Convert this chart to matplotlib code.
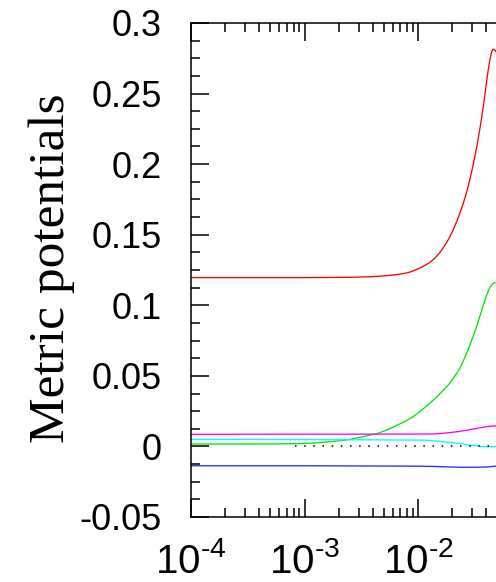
import numpy as np
import matplotlib
matplotlib.use("Agg")
import matplotlib.pyplot as plt
from matplotlib.ticker import FixedLocator, FixedFormatter, MultipleLocator, LogLocator, NullFormatter

# ---- data (x as log10 of scale factor) ----
red_logx = [-4.0, -3.0, -2.6, -2.4, -2.3, -2.2, -2.15, -2.1, -2.07, -2.04, -2.0, -1.97, -1.95, -1.92,
            -1.894, -1.85, -1.806, -1.775, -1.744, -1.72, -1.70, -1.68, -1.656, -1.63,
            -1.604, -1.585, -1.568, -1.555, -1.542, -1.528, -1.513, -1.497, -1.48, -1.467, -1.454,
            -1.437, -1.42, -1.407, -1.395, -1.38, -1.366, -1.357, -1.35, -1.343, -1.337, -1.331,
            -1.325, -1.319, -1.313, -1.30, -1.29]
red_val = [0.1196, 0.1196, 0.1198, 0.1203, 0.1208, 0.1216, 0.1222, 0.1229, 0.1236, 0.1245, 0.1258,
           0.1269, 0.1278, 0.1292, 0.1305, 0.1335, 0.1375, 0.1410, 0.1450, 0.1485, 0.1518, 0.1553,
           0.1600, 0.1655, 0.1715, 0.1765, 0.1813, 0.1853, 0.1895, 0.1945, 0.2000, 0.2063,
           0.2135, 0.2193, 0.2255, 0.2340, 0.2435, 0.2515, 0.2588, 0.2675, 0.2742, 0.2776, 0.2797,
           0.2809, 0.2814, 0.2813, 0.2809, 0.2804, 0.2797, 0.2780, 0.2765]

green_logx = [-4.0, -3.5, -3.2, -3.0, -2.9, -2.775, -2.68, -2.6, -2.485, -2.41, -2.335, -2.26, -2.185,
              -2.11, -2.044, -1.97, -1.894, -1.82, -1.744, -1.70, -1.656, -1.63, -1.61, -1.59, -1.568,
              -1.545, -1.52, -1.50, -1.48, -1.455, -1.427, -1.41, -1.39, -1.378, -1.366, -1.353,
              -1.34, -1.331, -1.322, -1.31, -1.29]
green_val = [0.0017, 0.0017, 0.0018, 0.0021, 0.0025, 0.0033, 0.0041, 0.0050, 0.0069, 0.0082, 0.0097,
             0.0122, 0.0150, 0.0179, 0.0210, 0.0256, 0.0307, 0.0362, 0.0425, 0.0470, 0.0520, 0.0557,
             0.0590, 0.0626, 0.0668, 0.0714, 0.0767, 0.0812, 0.0860, 0.0923, 0.0995, 0.1037, 0.1082,
             0.1106, 0.1126, 0.1142, 0.1153, 0.1158, 0.1160, 0.1160, 0.1157]

magenta_logx = [-4.0, -2.5, -1.9, -1.83, -1.78, -1.72, -1.656, -1.60, -1.56, -1.52, -1.48, -1.44,
                -1.40, -1.37, -1.34, -1.29]
magenta_val = [0.0086, 0.0087, 0.0088, 0.0090, 0.0093, 0.0098, 0.0104, 0.0111, 0.0116, 0.0122,
               0.0128, 0.0134, 0.0139, 0.0143, 0.0145, 0.0146]

cyan_logx = [-4.0, -2.5, -2.0, -1.94, -1.88, -1.82, -1.76, -1.72, -1.656, -1.61, -1.58, -1.55,
             -1.52, -1.48, -1.44, -1.40, -1.36, -1.32, -1.29]
cyan_val = [0.0050, 0.0047, 0.0045, 0.0044, 0.0041, 0.0037, 0.0032, 0.0029, 0.0023, 0.0018,
            0.0014, 0.0010, 0.0007, 0.0003, 0.0000, -0.0002, -0.0002, -0.0001, 0.0001]

blue_logx = [-4.0, -3.0, -2.0, -1.85, -1.75, -1.6, -1.45, -1.38, -1.33, -1.29]
blue_val = [-0.0137, -0.0137, -0.0140, -0.0142, -0.0145, -0.0148, -0.0147, -0.0145, -0.0141, -0.0138]

zero_logx = [-3.08, 0.0]
zero_val = [0.0, 0.0]

ytick_vals = [-0.05, 0, 0.05, 0.1, 0.15, 0.2, 0.25, 0.3]
ytick_labels = ["-0.05", "0", "0.05", "0.1", "0.15", "0.2", "0.25", "0.3"]
xtick_vals = [1e-4, 1e-3, 1e-2, 1e-1, 1e0]
xtick_labels = [r"$10^{\text{-}4}$", r"$10^{\text{-}3}$", r"$10^{\text{-}2}$", "", ""]
ylabel = "Metric potentials"

plt.rcParams["font.family"] = ["Liberation Sans", "DejaVu Sans"]
plt.rcParams["mathtext.fontset"] = "custom"
plt.rcParams["mathtext.rm"] = "Liberation Sans"
plt.rcParams["mathtext.it"] = "Liberation Sans:italic"
plt.rcParams["mathtext.bf"] = "Liberation Sans:bold"

W, H = 496, 582
fig = plt.figure(figsize=(W / 100, H / 100), dpi=100)
ax = fig.add_axes([191 / W, 65 / H, 454 / W, 494 / H])

lw = 0.95
ax.plot(10 ** np.array(red_logx), red_val, color="#ff0000", lw=lw)
ax.plot(10 ** np.array(green_logx), green_val, color="#00e800", lw=lw)
ax.plot(10 ** np.array(magenta_logx), magenta_val, color="#ff00ff", lw=lw)
ax.plot(10 ** np.array(cyan_logx), cyan_val, color="#00ffff", lw=lw)
ax.plot(10 ** np.array(blue_logx), blue_val, color="#2a2aff", lw=lw)
ax.plot(10 ** np.array(zero_logx), zero_val, color="black", lw=1.1, linestyle=(0, (1, 5)))

ax.set_xscale("log")
ax.set_xlim(1e-4, 1e0)
ax.set_ylim(-0.05, 0.3)

ax.xaxis.set_major_locator(FixedLocator(xtick_vals))
ax.xaxis.set_major_formatter(FixedFormatter(xtick_labels))
ax.xaxis.set_minor_locator(LogLocator(base=10, subs=np.arange(2, 10), numticks=20))
ax.xaxis.set_minor_formatter(NullFormatter())

ax.yaxis.set_major_locator(FixedLocator(ytick_vals))
ax.yaxis.set_major_formatter(FixedFormatter(ytick_labels))
ax.yaxis.set_minor_locator(MultipleLocator(0.0125))

for s in ax.spines.values():
    s.set_linewidth(1.1)

ax.tick_params(which="both", direction="in", top=True, right=True, width=1.1, color="black")
ax.tick_params(which="major", length=13)
ax.tick_params(which="minor", length=6.5)
ax.tick_params(axis="y", which="major", labelsize=26, pad=21)
ax.tick_params(axis="x", which="major", labelsize=29, pad=18)

fig.text(52 / W, 1 - 268 / H, ylabel, rotation=90, ha="center", va="center",
         fontsize=37, family=["Liberation Serif", "DejaVu Serif"])

fig.savefig("out.png", dpi=100)
